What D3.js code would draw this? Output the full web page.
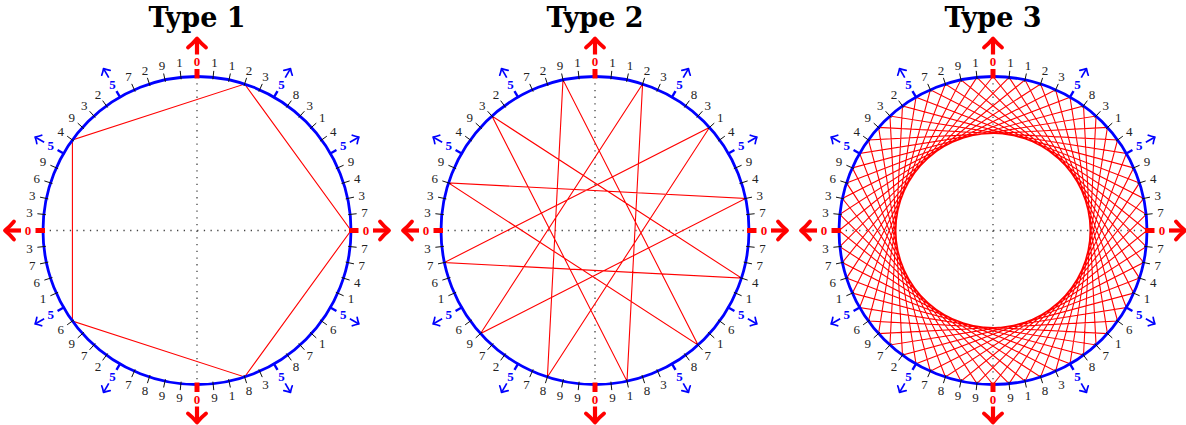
<!DOCTYPE html>
<html>
<head>
<meta charset="utf-8">
<script src="https://cdn.jsdelivr.net/npm/d3@7"></script>
<style>
  html, body { margin: 0; padding: 0; background: #fff; }
  svg { display: block; }
</style>
</head>
<body>
<svg id="chart" width="1186" height="425"></svg>
<script>
// Last digits of the Fibonacci numbers F(0)..F(59) (Pisano period 60), clockwise from the top
const fibDigits = [0,1,1,2,3,5,8,3,1,4,5,9,4,3,7,0,7,7,4,1,5,6,1,7,8,5,3,8,1,9,
                   0,9,9,8,7,5,2,7,9,6,5,1,6,7,3,0,3,3,6,9,5,4,9,3,2,5,7,2,9,1];
const panelTitles = ["Type 1", "Type 2", "Type 3"];
// Closed chord paths (positions on the 60-dial), one per panel
const type1Path = [3, 15, 27, 39, 51];
const type2Path = [3, 28, 53, 18, 43, 8, 33, 58, 23, 48, 13, 38];
const type3Path = [0,17,34,51,8,25,42,59,16,33,50,7,24,41,58,15,32,49,6,23,40,57,14,31,48,5,22,39,56,13,
                   30,47,4,21,38,55,12,29,46,3,20,37,54,11,28,45,2,19,36,53,10,27,44,1,18,35,52,9,26,43];
const chordPaths = [type1Path, type2Path, type3Path];

const W = 1186, H = 425;
const R = 154;
const cy = 230.5;
const svg = d3.select("#chart");

const xPanel = d3.scalePoint().domain(panelTitles).range([197, 993]);
const angle = d3.scaleLinear().domain([0, fibDigits.length]).range([0, 2 * Math.PI]);

const BLUE = "#0000ff", RED = "#ff0000";

function arrowHead(g, a, rTip, len, color, width) {
  const tip = d3.pointRadial(a, rTip);
  const back = d3.pointRadial(a, rTip - len * 0.75);
  const perp = [Math.cos(a), Math.sin(a)];
  const p1 = [back[0] + perp[0] * len * 0.75, back[1] + perp[1] * len * 0.75];
  const p2 = [back[0] - perp[0] * len * 0.75, back[1] - perp[1] * len * 0.75];
  const c1 = d3.pointRadial(a, rTip - len * 0.15);
  const mid1 = [(c1[0] + p1[0]) / 2, (c1[1] + p1[1]) / 2];
  const mid2 = [(c1[0] + p2[0]) / 2, (c1[1] + p2[1]) / 2];
  g.append("path")
    .attr("d", `M${p1[0]},${p1[1]} Q${mid1[0]},${mid1[1]} ${tip[0]},${tip[1]} Q${mid2[0]},${mid2[1]} ${p2[0]},${p2[1]}`)
    .attr("fill", "none").attr("stroke", color).attr("stroke-width", width)
    .attr("stroke-linecap", "round").attr("stroke-linejoin", "round");
}

panelTitles.forEach((title, p) => {
  const cx = xPanel(title);
  const g = svg.append("g").attr("transform", `translate(${cx},${cy})`);

  svg.append("text")
    .attr("x", cx).attr("y", 27)
    .attr("text-anchor", "middle")
    .attr("font-family", "'DejaVu Serif', serif")
    .attr("font-weight", "bold")
    .attr("font-size", 27)
    .attr("fill", "#000")
    .text(title);

  g.append("line").attr("x1", -R).attr("x2", R).attr("y1", 0).attr("y2", 0)
    .attr("stroke", "#444").attr("stroke-width", 1.3).attr("stroke-dasharray", "1.3,5.4");
  g.append("line").attr("y1", -R).attr("y2", R).attr("x1", 0).attr("x2", 0)
    .attr("stroke", "#444").attr("stroke-width", 1.3).attr("stroke-dasharray", "1.3,5.4");

  const chordLine = d3.lineRadial()
    .angle(d => angle(d))
    .radius(R)
    .curve(d3.curveLinearClosed);
  g.append("path")
    .attr("d", chordLine(chordPaths[p]))
    .attr("fill", "none").attr("stroke", RED).attr("stroke-width", 1.1);

  g.append("circle").attr("r", R).attr("fill", "none")
    .attr("stroke", BLUE).attr("stroke-width", 2.8);

  fibDigits.forEach((dgt, i) => {
    const a = angle(i);
    let r0, r1, col, sw;
    if (dgt === 0) { r0 = R - 2; r1 = R + 7.5; col = RED; sw = 5; }
    else if (dgt === 5) { r0 = R - 1; r1 = R + 7; col = BLUE; sw = 2.4; }
    else { r0 = R - 2; r1 = R + 6.5; col = "#111"; sw = 1; }
    const q0 = d3.pointRadial(a, r0), q1 = d3.pointRadial(a, r1);
    g.append("line")
      .attr("x1", q0[0]).attr("y1", q0[1]).attr("x2", q1[0]).attr("y2", q1[1])
      .attr("stroke", col).attr("stroke-width", sw);

    const special = dgt === 0 || dgt === 5;
    const lp = d3.pointRadial(a, special ? 169 : 168.5);
    g.append("text")
      .attr("x", lp[0]).attr("y", lp[1])
      .attr("dy", "0.34em")
      .attr("text-anchor", "middle")
      .attr("font-family", "'Liberation Serif', serif")
      .attr("font-size", 13)
      .attr("font-weight", special ? "bold" : "normal")
      .attr("fill", dgt === 0 ? RED : dgt === 5 ? BLUE : "#222")
      .text(dgt);

    if (dgt === 0) {
      const s0 = d3.pointRadial(a, 176), s1 = d3.pointRadial(a, 190);
      g.append("line").attr("x1", s0[0]).attr("y1", s0[1]).attr("x2", s1[0]).attr("y2", s1[1])
        .attr("stroke", RED).attr("stroke-width", 4.2).attr("stroke-linecap", "butt");
      arrowHead(g, a, 192, 12, RED, 3.8);
    } else if (dgt === 5) {
      const s0 = d3.pointRadial(a, 176.5), s1 = d3.pointRadial(a, 186);
      g.append("line").attr("x1", s0[0]).attr("y1", s0[1]).attr("x2", s1[0]).attr("y2", s1[1])
        .attr("stroke", BLUE).attr("stroke-width", 1.7);
      arrowHead(g, a, 187, 6.5, BLUE, 1.7);
    }
  });
});
</script>
</body>
</html>
